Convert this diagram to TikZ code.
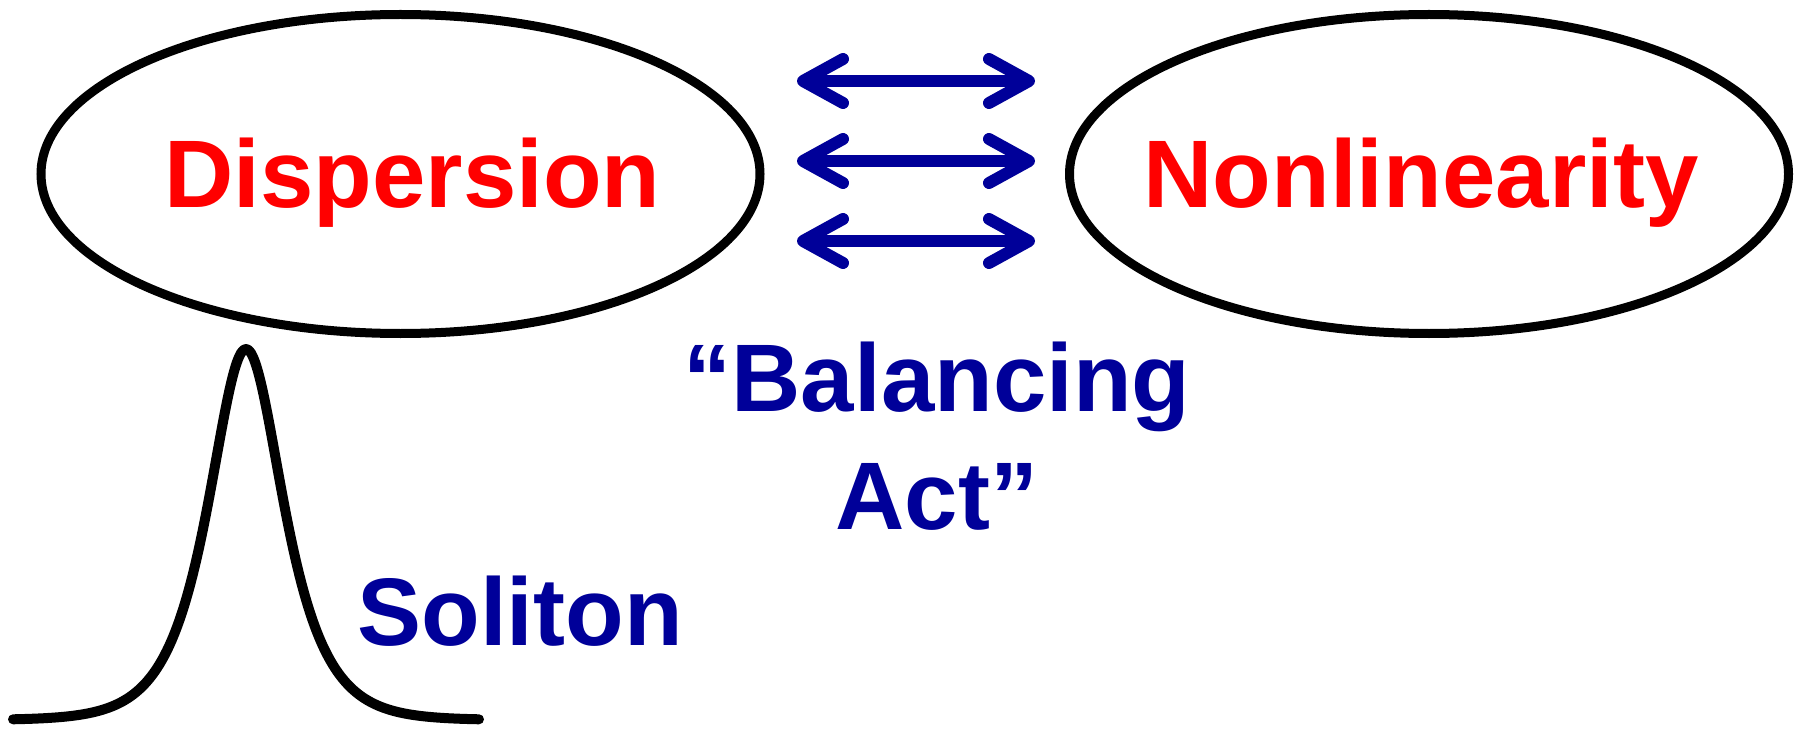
\documentclass[tikz,border=0pt]{standalone}
\usepackage{fontspec}
\setmainfont{Liberation Sans}
\usetikzlibrary{shapes.geometric,arrows.meta}
\definecolor{navy}{RGB}{0,0,153}
\definecolor{hotred}{RGB}{255,0,0}
\tikzset{
  bubble/.style={ellipse, draw=black, line width=9pt, inner sep=0pt,
                 minimum width=719pt, minimum height=319pt},
  bigword/.style={anchor=base, inner sep=0pt, font=\fontsize{96}{115.2}\selectfont\bfseries},
  redword/.style={bigword, text=hotred},
  blueword/.style={bigword, text=navy, align=center},
  twoway/.style={draw=navy, line width=12pt,
    {Straight Barb[length=40pt, width=44pt, round]}-{Straight Barb[length=40pt, width=44pt, round]}},
  pulse/.style={draw=black, line width=10pt, line cap=round, line join=round}
}
\begin{document}
\begin{tikzpicture}[x=1pt, y=-1pt]
  \useasboundingbox[fill=white] (0,0) rectangle (1794,730);

  % the two competing effects
  \node[bubble] (disp) at (400.5,174) {};
  \node[bubble] (nonlin) at (1429,174) {};
  \node[redword] (disptext) at (412.5,208) {Dispersion};
  \node[redword] (nonlintext) at (1421,208) {Nonlinearity};

  % the back-and-forth between them
  \foreach \i/\y in {1/81, 2/161, 3/241} {
    \coordinate (l\i) at (797,\y);
    \coordinate (r\i) at (1035,\y);
    \draw[twoway] (l\i) -- (r\i);
  }

  % caption (base anchor sits on the last line)
  \node[blueword] (balance) at (937,529) {``Balancing\\[2pt]Act''};

  % sech-shaped pulse
  \draw[pulse] plot[domain=-233:233, samples=240, smooth]
    ({246+\x}, {720 - 371/cosh(\x/33.5)});
  \node[blueword] (soliton) at (520,645) {Soliton};
\end{tikzpicture}
\end{document}
